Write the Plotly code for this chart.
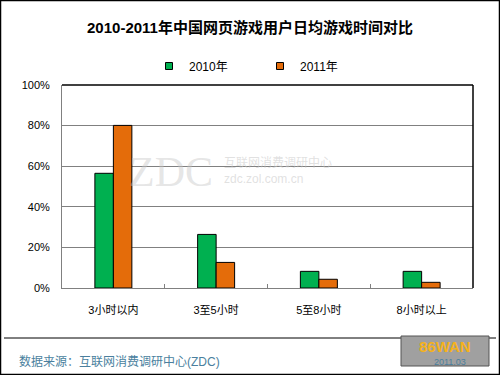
import plotly.graph_objects as go

categories = ["3小时以内", "3至5小时", "5至8小时", "8小时以上"]
series_2010 = [0.565, 0.264, 0.082, 0.082]
series_2011 = [0.801, 0.126, 0.043, 0.028]
series_names = ["2010年", "2011年"]
series_colors = ["#00b050", "#e46c0a"]
y_ticks = [0, 0.2, 0.4, 0.6, 0.8, 1.0]
y_tick_labels = ["0%", "20%", "40%", "60%", "80%", "100%"]
title_text = "2010-2011年中国网页游戏用户日均游戏时间对比"
source_text = "数据来源：互联网消费调研中心(ZDC)"

W, H = 500, 375
L, R, T, B = 62, 27, 85, 87
pw, ph = W - L - R, H - T - B

def px_x(x):
    return (x - L) / pw

def px_y(y):
    return (H - B - y) / ph

FONT = "Liberation Sans, Arial, Noto Sans CJK SC, sans-serif"

fig = go.Figure()
for name, vals, col in zip(series_names, [series_2010, series_2011], series_colors):
    fig.add_trace(go.Bar(x=categories, y=vals, name=name, showlegend=False,
                         marker=dict(color=col, line=dict(color="#000000", width=1))))
# legend proxies with small square markers
for name, col in zip(series_names, series_colors):
    fig.add_trace(go.Scatter(x=[None], y=[None], mode="markers", name=name,
                             marker=dict(symbol="square", size=7, color=col,
                                         line=dict(color="#000000", width=1))))

fig.update_layout(
    width=W, height=H,
    margin=dict(l=L, r=R, t=T, b=B),
    paper_bgcolor="#ffffff", plot_bgcolor="#ffffff",
    barmode="group", bargap=0.64, bargroupgap=0,
    font=dict(family=FONT, size=11, color="#000000"),
    title=dict(text="<b>" + title_text + "</b>", x=0.5, xanchor="center",
               y=1 - 28 / H, yanchor="middle",
               font=dict(size=15, family=FONT, color="#000000")),
    legend=dict(orientation="h", x=px_x(149), xanchor="left",
                y=px_y(66), yanchor="middle", font=dict(size=12),
                entrywidth=66, entrywidthmode="pixels",
                bgcolor="rgba(0,0,0,0)"),
    xaxis=dict(showline=True, linecolor="#808080", linewidth=1,
               ticks="inside", tickson="boundaries", ticklen=4, tickcolor="#808080",
               showgrid=False, tickfont=dict(size=11), ticklabelstandoff=12,
               fixedrange=True),
    yaxis=dict(range=[0, 1], tickvals=y_ticks, ticktext=y_tick_labels,
               showline=True, linecolor="#808080", linewidth=1,
               showgrid=True, gridcolor="#808080", gridwidth=1,
               zeroline=False, ticks="", tickfont=dict(size=11),
               ticklabelstandoff=9, fixedrange=True),
)

shapes = [
    dict(type="line", xref="paper", yref="paper", x0=0, x1=1, y0=1, y1=1,
         line=dict(color="#000000", width=1.5)),
    dict(type="line", xref="paper", yref="paper", x0=1, x1=1, y0=0, y1=1,
         line=dict(color="#000000", width=1.5)),
    dict(type="line", xref="paper", yref="paper", x0=px_x(4), x1=px_x(496),
         y0=px_y(338), y1=px_y(338), line=dict(color="#000000", width=1)),
    dict(type="rect", xref="paper", yref="paper", x0=px_x(0.5), x1=px_x(499.5),
         y0=px_y(374.5), y1=px_y(0.5), line=dict(color="#000000", width=1.5)),
    dict(type="rect", xref="paper", yref="paper", x0=px_x(401), x1=px_x(489),
         y0=px_y(366), y1=px_y(336), fillcolor="#a0a0a0",
         line=dict(color="#555555", width=1)),
]
fig.update_layout(shapes=shapes)

annotations = [
    dict(text=source_text, xref="paper", yref="paper", x=px_x(17), y=px_y(361),
         xanchor="left", yanchor="middle", showarrow=False,
         font=dict(size=12, color="#4a7f9e", family=FONT)),
    dict(text="ZDC", xref="paper", yref="paper", x=px_x(215), y=px_y(172),
         xanchor="right", yanchor="middle", showarrow=False,
         font=dict(size=42, color="rgba(200,200,200,0.45)", family="Liberation Serif")),
    dict(text="互联网消费调研中心<br>zdc.zol.com.cn", xref="paper", yref="paper",
         x=px_x(222), y=px_y(170), xanchor="left", yanchor="middle", showarrow=False,
         align="left",
         font=dict(size=12, color="rgba(200,200,200,0.55)", family=FONT)),
    dict(text="<b>86WAN</b>", xref="paper", yref="paper", x=px_x(445), y=px_y(346),
         xanchor="center", yanchor="middle", showarrow=False,
         font=dict(size=15, color="#f5b21b", family=FONT)),
    dict(text="2011.03", xref="paper", yref="paper", x=px_x(450), y=px_y(362),
         xanchor="center", yanchor="middle", showarrow=False,
         font=dict(size=9, color="#4a7f9e", family=FONT)),
]
fig.update_layout(annotations=annotations)

fig.write_html("out.html", config={"displayModeBar": False},
               post_script="document.body.style.margin='0';document.body.style.padding='0';")
